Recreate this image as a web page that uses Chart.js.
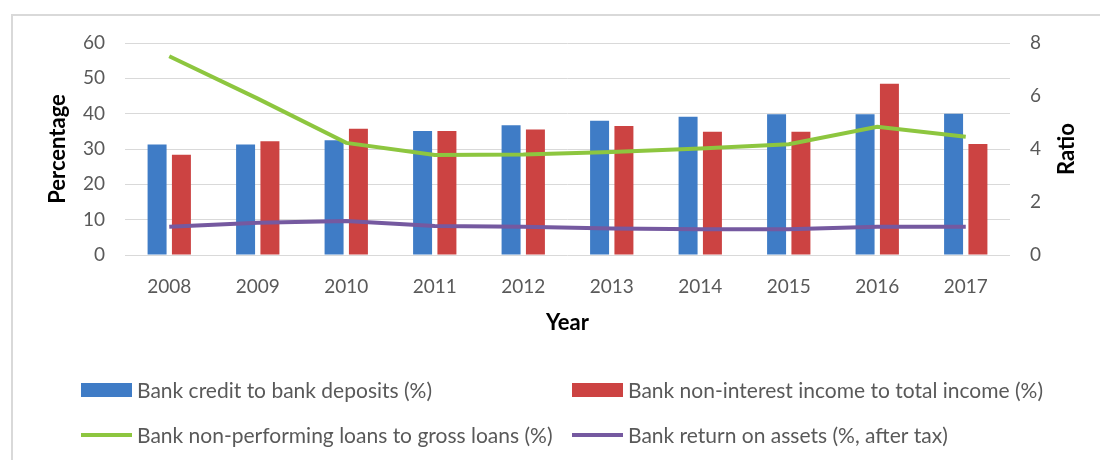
<!DOCTYPE html>
<html>
<head>
<meta charset="utf-8">
<script src="https://cdn.jsdelivr.net/npm/chart.js@4/dist/chart.umd.min.js"></script>
<style>
  html, body { margin: 0; padding: 0; background: #ffffff; }
  #wrap { position: relative; width: 1100px; height: 460px; }
</style>
</head>
<body>
<div id="wrap"><canvas id="c" width="1100" height="460"></canvas></div>
<script>
// ---- Data ----
const years = ['2008', '2009', '2010', '2011', '2012', '2013', '2014', '2015', '2016', '2017'];
const creditToDeposits = [31.3, 31.3, 32.5, 35.1, 36.7, 38.0, 39.1, 39.8, 39.8, 40.0];
const nonInterestIncome = [28.4, 32.2, 35.7, 35.1, 35.5, 36.5, 34.9, 34.9, 48.5, 31.4];
const nplToGrossLoans = [7.5, 5.9, 4.23, 3.77, 3.79, 3.89, 4.02, 4.18, 4.84, 4.46];
const returnOnAssets = [1.07, 1.22, 1.28, 1.09, 1.07, 1.0, 0.97, 0.97, 1.07, 1.07];
const leftTicks = [0, 10, 20, 30, 40, 50, 60];
const rightTicks = [0, 2, 4, 6, 8];
const seriesNames = [
  'Bank credit to bank deposits (%)',
  'Bank non-interest income to total income (%)',
  'Bank non-performing loans to gross loans (%)',
  'Bank return on assets (%, after tax)'
];
const seriesColors = ['#3F7CC6', '#CC4342', '#8DC63F', '#7559A0'];

const FONT = 'Lato, "Open Sans", sans-serif';
const TICK_COLOR = '#595959';

const framePlugin = {
  id: 'frame',
  beforeDraw(chart) {
    const ctx = chart.ctx;
    ctx.save();
    ctx.fillStyle = '#ffffff';
    ctx.fillRect(0, 0, chart.width, chart.height);
    ctx.strokeStyle = '#d9d9d9';
    ctx.lineWidth = 2;
    ctx.beginPath();
    ctx.moveTo(12, chart.height);
    ctx.lineTo(12, 15);
    ctx.lineTo(chart.width, 15);
    ctx.stroke();
    ctx.restore();
  }
};

const extrasPlugin = {
  id: 'extras',
  afterDraw(chart) {
    const ctx = chart.ctx;
    const area = chart.chartArea;
    ctx.save();
    // Right axis title, rotated like the left one
    ctx.font = 'bold 22px ' + FONT;
    ctx.fillStyle = '#000000';
    ctx.textAlign = 'center';
    ctx.textBaseline = 'middle';
    ctx.translate(1067, (area.top + area.bottom) / 2);
    ctx.rotate(-Math.PI / 2);
    ctx.fillText('Ratio', 0, 0);
    ctx.restore();

    // Legend (2 x 2 grid)
    const items = [
      { x: 81, y: 390, kind: 'box' },
      { x: 572, y: 390, kind: 'box' },
      { x: 81, y: 435, kind: 'line' },
      { x: 572, y: 435, kind: 'line' }
    ];
    ctx.save();
    ctx.font = '21px ' + FONT;
    ctx.textBaseline = 'middle';
    ctx.textAlign = 'left';
    items.forEach((it, i) => {
      ctx.fillStyle = seriesColors[i];
      if (it.kind === 'box') {
        ctx.fillRect(it.x, it.y - 7, 51, 14);
      } else {
        ctx.fillRect(it.x, it.y - 2, 51, 4);
      }
      ctx.fillStyle = '#595959';
      ctx.fillText(seriesNames[i], it.x + 56, it.y + 1);
    });
    ctx.restore();
  }
};

new Chart(document.getElementById('c'), {
  data: {
    labels: years,
    datasets: [
      { type: 'line', label: seriesNames[2], data: nplToGrossLoans, yAxisID: 'y1',
        borderColor: seriesColors[2], backgroundColor: seriesColors[2], borderWidth: 4,
        pointRadius: 0, tension: 0, order: 0 },
      { type: 'line', label: seriesNames[3], data: returnOnAssets, yAxisID: 'y1',
        borderColor: seriesColors[3], backgroundColor: seriesColors[3], borderWidth: 4,
        pointRadius: 0, tension: 0, order: 0 },
      { type: 'bar', label: seriesNames[0], data: creditToDeposits, yAxisID: 'y',
        backgroundColor: seriesColors[0], categoryPercentage: 0.55, barPercentage: 0.78, order: 1 },
      { type: 'bar', label: seriesNames[1], data: nonInterestIncome, yAxisID: 'y',
        backgroundColor: seriesColors[1], categoryPercentage: 0.55, barPercentage: 0.78, order: 1 }
    ]
  },
  options: {
    responsive: false,
    animation: false,
    layout: { padding: { left: 12, right: 0, top: 43, bottom: 120 } },
    plugins: { legend: { display: false }, tooltip: { enabled: false } },
    scales: {
      x: {
        type: 'category',
        offset: true,
        grid: { display: false, drawTicks: false },
        border: { display: false },
        ticks: { font: { family: FONT, size: 19 }, color: TICK_COLOR, padding: 20, maxRotation: 0 },
        title: { display: true, text: 'Year', color: '#000000',
                 font: { family: FONT, size: 22, weight: 'bold' }, padding: { top: 0, bottom: 4 } },
        afterFit(s) { s.height = 85; }
      },
      y: {
        position: 'left',
        min: leftTicks[0], max: leftTicks[leftTicks.length - 1],
        afterBuildTicks(s) { s.ticks = leftTicks.map(v => ({ value: v })); },
        grid: { color: '#d9d9d9', lineWidth: 1, drawTicks: false },
        border: { display: false },
        ticks: { font: { family: FONT, size: 19 }, color: TICK_COLOR, padding: 20 },
        title: { display: true, text: 'Percentage', color: '#000000',
                 font: { family: FONT, size: 22, weight: 'bold' }, padding: { top: 33, bottom: 0 } },
        afterFit(s) { s.width = 113; }
      },
      y1: {
        position: 'right',
        min: rightTicks[0], max: rightTicks[rightTicks.length - 1],
        afterBuildTicks(s) { s.ticks = rightTicks.map(v => ({ value: v })); },
        grid: { display: false, drawTicks: false },
        border: { display: false },
        ticks: { font: { family: FONT, size: 19 }, color: TICK_COLOR, padding: 20 },
        afterFit(s) { s.width = 90; }
      }
    }
  },
  plugins: [framePlugin, extrasPlugin]
});
</script>
</body>
</html>
